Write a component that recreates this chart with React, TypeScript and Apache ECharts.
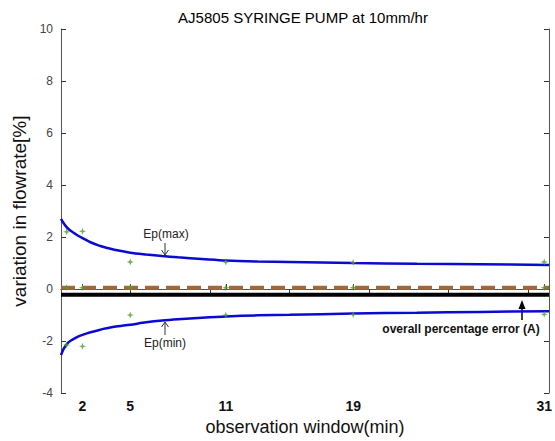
import React, { useEffect, useRef } from "react";
import * as echarts from "echarts";

const obsWindows = [1, 2, 5, 11, 19, 31];
const obsUpper = [2.2, 2.22, 1.04, 1.04, 1.02, 1.04];
const obsLower = [-2.15, -2.2, -1.0, -1.0, -0.98, -0.97];
const obsCentre = [0.05, 0.05, 0.05, 0.05, 0.05, 0.05];

const curveX = [0.65, 0.8, 0.95, 1.1, 1.3, 1.5, 1.75, 2, 2.5, 3, 3.5, 4, 5, 6, 7, 8, 9.5, 11, 13, 15, 19, 23, 27, 31.3];
const epMax = [2.7, 2.55, 2.42, 2.32, 2.22, 2.14, 2.04, 1.96, 1.8, 1.68, 1.59, 1.51, 1.4, 1.33, 1.27, 1.22, 1.16, 1.1, 1.06, 1.04, 1.0, 0.97, 0.95, 0.93];
const epMin = [-2.54, -2.32, -2.17, -2.06, -1.97, -1.9, -1.82, -1.76, -1.66, -1.58, -1.51, -1.45, -1.37, -1.28, -1.21, -1.16, -1.1, -1.05, -1.01, -0.99, -0.94, -0.91, -0.88, -0.85];

const xTicks = [2, 5, 11, 19, 31];
const topTicks = [5, 10, 15, 20, 25, 30];
const referenceLevel = 0.05;
const overallError = -0.22;
const xRange = [0.65, 31.3];
const yRange = [-4, 10];

const FONT = "'Liberation Sans', Arial, sans-serif";

export default function App() {
  const ref = useRef<HTMLDivElement>(null);
  useEffect(() => {
    if (!ref.current) return;
    const chart = echarts.init(ref.current, null, { renderer: "svg" });
    const star = "path://M5,0 L6.3,3.7 L10,5 L6.3,6.3 L5,10 L3.7,6.3 L0,5 L3.7,3.7 Z";
    const axisLineStyle = { color: "#555", width: 1 };
    chart.setOption({
      animation: false,
      backgroundColor: "#fff",
      textStyle: { fontFamily: FONT },
      title: {
        text: "AJ5805 SYRINGE PUMP at 10mm/hr",
        left: 298,
        top: 5,
        textAlign: "center",
        textStyle: { fontFamily: FONT, fontSize: 15, fontWeight: "normal", color: "#000" },
      },
      grid: { left: 61, right: 6, top: 29, bottom: 47 },
      xAxis: [
        {
          type: "value",
          position: "bottom",
          min: xRange[0],
          max: xRange[1],
          name: "observation window(min)",
          nameLocation: "middle",
          nameGap: 21,
          nameTextStyle: { fontFamily: FONT, fontSize: 18, color: "#111" },
          axisLine: { show: true, lineStyle: axisLineStyle },
          axisTick: { show: true, inside: true, length: 5, customValues: xTicks, lineStyle: { color: "#333" } },
          axisLabel: {
            customValues: xTicks,
            fontFamily: FONT,
            fontSize: 14,
            fontWeight: "bold",
            color: "#111",
            margin: 6,
          },
          splitLine: { show: false },
        },
        {
          type: "value",
          position: "top",
          min: xRange[0],
          max: xRange[1],
          axisLine: { show: true, lineStyle: axisLineStyle },
          axisTick: { show: true, inside: true, length: 5, customValues: topTicks, lineStyle: { color: "#333" } },
          axisLabel: { show: false },
          splitLine: { show: false },
        },
      ],
      yAxis: [
        {
          type: "value",
          position: "left",
          min: yRange[0],
          max: yRange[1],
          interval: 2,
          name: "variation in flowrate[%]",
          nameLocation: "middle",
          nameGap: 24,
          nameTextStyle: { fontFamily: FONT, fontSize: 19, color: "#111" },
          axisLine: { show: true, lineStyle: axisLineStyle },
          axisTick: { show: true, inside: true, length: 5, lineStyle: { color: "#333" } },
          axisLabel: { fontFamily: FONT, fontSize: 12, color: "#444", margin: 8 },
          splitLine: { show: false },
        },
        {
          type: "value",
          position: "right",
          min: yRange[0],
          max: yRange[1],
          interval: 2,
          axisLine: { show: true, lineStyle: axisLineStyle },
          axisTick: { show: true, inside: true, length: 5, lineStyle: { color: "#333" } },
          axisLabel: { show: false },
          splitLine: { show: false },
        },
      ],
      series: [
        {
          type: "line",
          name: "Ep(max)",
          data: curveX.map((x, i) => [x, epMax[i]]),
          smooth: 0.3,
          showSymbol: false,
          lineStyle: { color: "#0a0ad0", width: 2.5 },
          z: 2,
        },
        {
          type: "line",
          name: "Ep(min)",
          data: curveX.map((x, i) => [x, epMin[i]]),
          smooth: 0.3,
          showSymbol: false,
          lineStyle: { color: "#0a0ad0", width: 2.5 },
          z: 2,
        },
        {
          type: "line",
          name: "reference",
          data: xRange.map((x) => [x, referenceLevel]),
          showSymbol: false,
          lineStyle: { color: "#a2683a", width: 4, type: [14, 7] },
          z: 3,
        },
        {
          type: "line",
          name: "overall error",
          data: xRange.map((x) => [x, overallError]),
          showSymbol: false,
          lineStyle: { color: "#000", width: 4 },
          z: 3,
        },
        {
          type: "scatter",
          data: [
            ...obsWindows.map((x, i) => [x, obsUpper[i]]),
            ...obsWindows.map((x, i) => [x, obsLower[i]]),
            ...obsWindows.map((x, i) => [x, obsCentre[i]]),
          ],
          symbol: star,
          symbolSize: 7,
          itemStyle: { color: "#4f9d2a" },
          z: 5,
        },
      ],
      graphic: [
        {
          type: "text",
          x: 166,
          y: 234,
          style: { text: "Ep(max)", font: `12px ${FONT}`, fill: "#222", align: "center", verticalAlign: "middle" },
        },
        { type: "line", shape: { x1: 165, y1: 243, x2: 165, y2: 255 }, style: { stroke: "#333", lineWidth: 1 } },
        { type: "polyline", shape: { points: [[161.5, 250], [165, 255], [168.5, 250]] }, style: { stroke: "#333", lineWidth: 1, fill: null } },
        {
          type: "text",
          x: 165,
          y: 343,
          style: { text: "Ep(min)", font: `12px ${FONT}`, fill: "#222", align: "center", verticalAlign: "middle" },
        },
        { type: "line", shape: { x1: 165, y1: 335, x2: 165, y2: 322 }, style: { stroke: "#333", lineWidth: 1 } },
        { type: "polyline", shape: { points: [[161.5, 327], [165, 322], [168.5, 327]] }, style: { stroke: "#333", lineWidth: 1, fill: null } },
        {
          type: "text",
          x: 461,
          y: 329,
          style: {
            text: "overall percentage error (A)",
            font: `bold 12px 'Liberation Sans Narrow', ${FONT}`,
            fill: "#111",
            align: "center",
            verticalAlign: "middle",
          },
        },
        { type: "line", shape: { x1: 522, y1: 320, x2: 522, y2: 306 }, style: { stroke: "#000", lineWidth: 1.5 } },
        { type: "polygon", shape: { points: [[518.5, 309], [522, 300], [525.5, 309]] }, style: { fill: "#000" } },
      ],
    });
    return () => chart.dispose();
  }, []);
  return (
    <div
      ref={ref}
      style={{ position: "absolute", left: 0, top: 0, width: 555, height: 441 }}
    />
  );
}
